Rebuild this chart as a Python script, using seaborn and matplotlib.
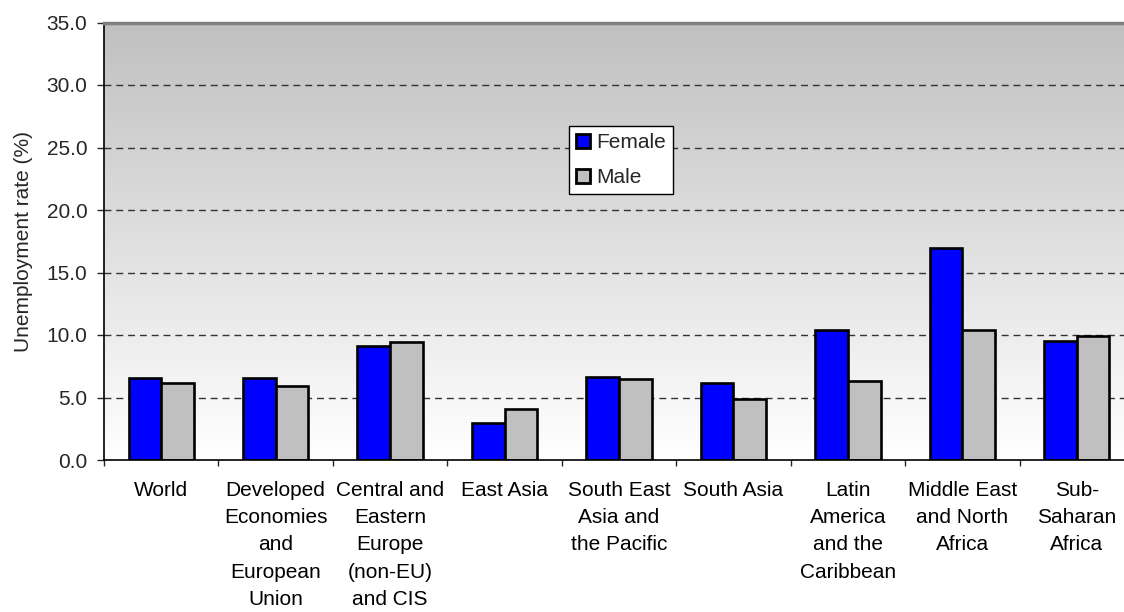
import numpy as np
import pandas as pd
import matplotlib
matplotlib.use("Agg")
import matplotlib.pyplot as plt
from matplotlib.colors import LinearSegmentedColormap
import seaborn as sns

# Data
regions = ["World", "Developed Economies and European Union",
           "Central and Eastern Europe (non-EU) and CIS", "East Asia",
           "South East Asia and the Pacific", "South Asia",
           "Latin America and the Caribbean", "Middle East and North Africa",
           "Sub-Saharan Africa"]
region_labels = ["World", "Developed\nEconomies\nand\nEuropean\nUnion",
                 "Central and\nEastern\nEurope\n(non-EU)\nand CIS", "East Asia",
                 "South East\nAsia and\nthe Pacific", "South Asia",
                 "Latin\nAmerica\nand the\nCaribbean", "Middle East\nand North\nAfrica",
                 "Sub-\nSaharan\nAfrica"]
female = [6.6, 6.6, 9.1, 2.95, 6.65, 6.15, 10.4, 16.95, 9.55]
male = [6.15, 5.9, 9.45, 4.05, 6.5, 4.85, 6.35, 10.4, 9.9]
yticks = [0, 5, 10, 15, 20, 25, 30, 35]

df = pd.DataFrame({
    "region": regions * 2,
    "rate": female + male,
    "sex": ["Female"] * len(regions) + ["Male"] * len(regions),
})

sns.set_style("white")
plt.rcParams["font.family"] = ["Liberation Sans", "DejaVu Sans"]
plt.rcParams["font.size"] = 15

fig = plt.figure(figsize=(11.24, 6.12), dpi=100)
# plot area runs slightly past the right edge, as in the reference
ax = fig.add_axes([104 / 1124, 152 / 612, 1030 / 1124, 437.5 / 612])

# gray-to-white gradient background
cmap = LinearSegmentedColormap.from_list("bg", ["#ffffff", "#c0c0c0"])
ax.imshow(np.linspace(0, 1, 256).reshape(-1, 1), extent=(-0.5, 8.5, 0, 35),
          origin="lower", aspect="auto", cmap=cmap, zorder=0)

for y in yticks[1:-1]:
    ax.axhline(y, color="#333333", lw=1, ls=(0, (5, 3.5)), zorder=1)

sns.barplot(data=df, x="region", y="rate", hue="sex", order=regions,
            palette=["#0000ff", "#c0c0c0"], saturation=1, width=0.57,
            edgecolor="black", linewidth=1.9, ax=ax, zorder=2)

ax.set_xlim(-0.5, 8.5)
ax.set_ylim(0, 35)
ax.set_yticks(yticks)
ax.set_yticklabels([f"{v:.1f}" for v in yticks])
ax.set_xticks(range(len(regions)))
ax.set_xticklabels(region_labels, linespacing=1.55)
ax.set_xticks(np.arange(-0.5, 9, 1), minor=True)
ax.tick_params(axis="x", which="major", length=0, pad=15, colors="black")
ax.tick_params(axis="x", which="minor", length=4.5, width=1, direction="out", bottom=True)
ax.tick_params(axis="y", length=5, width=1, direction="out", pad=7, left=True)

for s in ["left", "bottom"]:
    ax.spines[s].set_color("black")
    ax.spines[s].set_linewidth(1.2)
ax.spines["top"].set_color("#808080")
ax.spines["top"].set_linewidth(2.5)
ax.spines["right"].set_visible(False)

ax.set_xlabel("")
ax.set_ylabel("Unemployment rate (%)", labelpad=10)

handles, labels = ax.get_legend_handles_labels()
leg = ax.legend(handles, labels, loc="upper left",
                bbox_to_anchor=(569 / 1124, 1 - 126 / 612), bbox_transform=fig.transFigure,
                borderaxespad=0, fancybox=False, frameon=True, framealpha=1,
                edgecolor="black", handlelength=0.65, handleheight=0.65,
                handletextpad=0.3, labelspacing=0.75, borderpad=0.35, fontsize=15)
leg.get_frame().set_linewidth(1)
for h in leg.legend_handles:
    h.set_edgecolor("black")
    h.set_linewidth(2)

fig.savefig("out.png", dpi=100)
